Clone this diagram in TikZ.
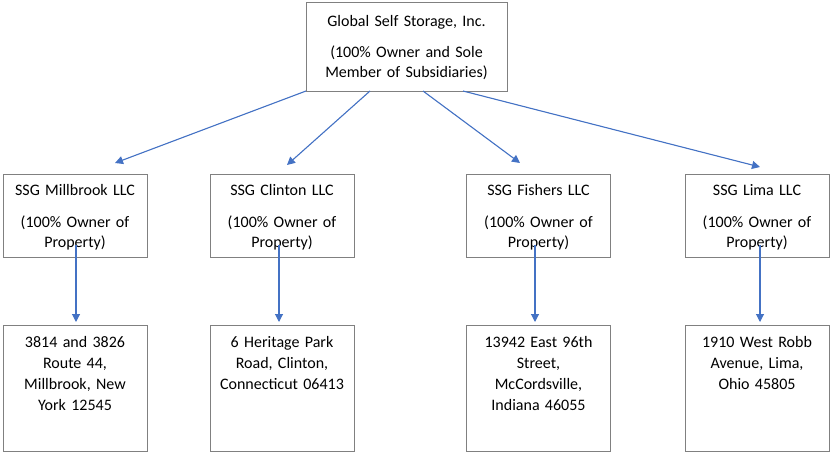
\documentclass[tikz,border=0pt]{standalone}
\usepackage{fontspec}
\setmainfont{Carlito}
\usepackage{xcolor}
\usetikzlibrary{
    arrows.meta,
    calc
}
\definecolor{boxgray}{RGB}{128,128,128}
\definecolor{linkblue}{RGB}{68,114,196}
\tikzset{
    block/.style={
        rectangle,
        draw=boxgray,
        line width=1pt,
        align=center,
        outer sep=0pt,
        inner xsep=4pt,
        inner ysep=8pt,
        anchor=north,
        font=\fontsize{16}{20}\selectfont
    },
    ownerbox/.style={
        block,
        text width=193pt,
        text height=16pt,
        text depth=56pt
    },
    llcbox/.style={
        block,
        text width=136pt,
        text height=13pt,
        text depth=54pt
    },
    addrbox/.style={
        block,
        text width=136pt,
        text height=14pt,
        text depth=96pt,
        font=\fontsize{16}{21}\selectfont
    },
    arrow/.style={
        -{Triangle[length=8pt,width=8pt]},
        draw=linkblue,
        fill=linkblue,
        line width=1.1pt
    }
}
\begin{document}
\begin{tikzpicture}[x=1pt, y=-1pt]
\useasboundingbox (0,0) rectangle (830,452);

\node[ownerbox] (top) at (406.5,3) {Global Self Storage, Inc.\\[11pt](100\% Owner and Sole\\Member of Subsidiaries)};

\node[llcbox] (m1) at (75,174) {SSG Millbrook LLC\\[12pt](100\% Owner of\\Property)};
\node[llcbox] (m2) at (282,174) {SSG Clinton LLC\\[12pt](100\% Owner of\\Property)};
\node[llcbox] (m3) at (538.5,174) {SSG Fishers LLC\\[12pt](100\% Owner of\\Property)};
\node[llcbox] (m4) at (757,174) {SSG Lima LLC\\[12pt](100\% Owner of\\Property)};

\node[addrbox] (b1) at (75,325) {3814 and 3826\\Route 44,\\Millbrook, New\\York 12545};
\node[addrbox] (b2) at (282,325) {6 Heritage Park\\Road, Clinton,\\Connecticut 06413};
\node[addrbox] (b3) at (538.5,325) {13942 East 96th\\Street,\\McCordsville,\\Indiana 46055};
\node[addrbox] (b4) at (757,325) {1910 West Robb\\Avenue, Lima,\\Ohio 45805};

\draw[arrow] (top.south west) -- ($(m1.north)+(40,-11)$);
\draw[arrow] ($(top.south)+(-36.5,0)$) -- ($(m2.north)+(5,-9)$);
\draw[arrow] ($(top.south)+(16.5,0)$) -- ($(m3.north)+(-18.5,-11)$);
\draw[arrow] ($(top.south)+(56.5,0)$) -- ($(m4.north)+(3,-7)$);

\draw[arrow] ($(m1.south)+(1,-12)$) -- ($(b1.north)+(1,-3)$);
\draw[arrow] ($(m2.south)+(-3,-12)$) -- ($(b2.north)+(-3,-3)$);
\draw[arrow] ($(m3.south)+(-3.5,-12)$) -- ($(b3.north)+(-3.5,-3)$);
\draw[arrow] ($(m4.south)+(3,-12)$) -- ($(b4.north)+(3,-3)$);

\end{tikzpicture}
\end{document}
